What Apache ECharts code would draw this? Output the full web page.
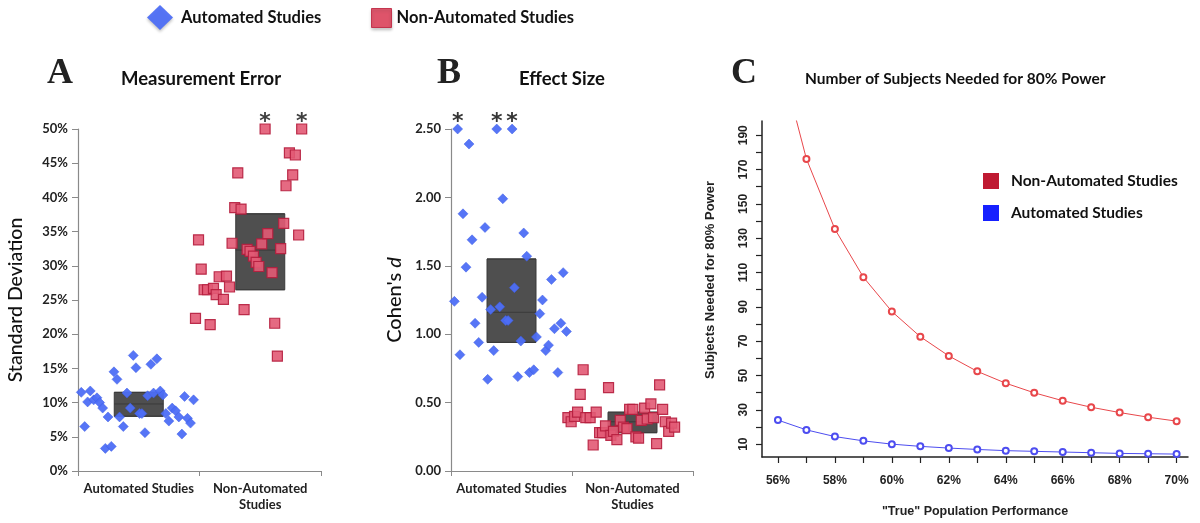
<!DOCTYPE html>
<html><head><meta charset="utf-8">
<script src="https://cdn.jsdelivr.net/npm/echarts@6/dist/echarts.min.js"></script>
<style>html,body{margin:0;padding:0;background:#fff}#c{width:1200px;height:523px}</style>
</head><body><div id="c"></div>
<script>
const groups = ['Automated Studies', 'Non-Automated\nStudies'];
const seriesNames = ['Automated Studies', 'Non-Automated Studies'];

// Panel A: Measurement Error (standard deviation, %)
const aAutoX = [0.027,0.055,0.079,0.101,0.129,0.156,0.178,0.203,0.225,0.247,0.274,0.296,0.321,0.342,0.373,0.403,0.430,0.455,0.477,0.507,0.526,0.551,0.573,0.600,0.622,0.649,0.677,0.699,0.723,0.748,0.775,0.803,0.830,0.855,0.877,0.901,0.926,0.951];
const aAutoY = [11.5,6.5,10.1,11.7,10.4,10.7,10.0,9.2,3.3,7.9,3.6,14.5,13.4,7.9,6.5,11.4,9.2,16.9,15.1,8.4,8.4,5.6,11.0,15.6,11.4,16.4,11.7,11.1,8.4,7.3,9.2,8.8,7.9,5.4,10.9,7.7,7.0,10.4];
const aNonX = [0.967,0.992,1.014,1.038,1.066,1.088,1.115,1.137,1.162,1.197,1.222,1.247,1.268,1.290,1.315,1.342,1.367,1.392,1.416,1.444,1.466,1.488,1.512,1.540,1.562,1.597,1.619,1.641,1.668,1.693,1.712,1.740,1.767,1.789,1.816,1.841];
const aNonY = [22.3,33.8,29.5,26.5,26.5,21.4,26.7,25.8,28.4,25.1,28.5,26.9,33.3,38.5,43.6,38.3,23.6,32.4,32.1,31.4,30.5,29.9,33.2,50,34.7,29.0,21.6,16.8,32.5,36.2,41.7,46.5,43.3,46.2,34.5,50];
const aBoxAuto = [8.0, 9.8, 11.5];   // Q1, median, Q3
const aBoxNon = [26.5, 32.3, 37.6];
const aCap = 50;

// Panel B: Effect size (Cohen's d)
const bAutoX = [0.028,0.055,0.074,0.099,0.124,0.149,0.174,0.199,0.229,0.257,0.281,0.303,0.328,0.353,0.378,0.403,0.428,0.452,0.472,0.505,0.524,0.552,0.577,0.601,0.626,0.648,0.684,0.706,0.734,0.756,0.783,0.806,0.830,0.855,0.883,0.908,0.927,0.954];
const bAutoY = [1.24,2.50,0.85,1.88,1.49,2.39,1.69,1.08,0.94,1.27,1.78,0.67,1.18,0.88,2.50,1.20,1.99,1.10,1.10,2.50,1.34,0.69,0.95,1.74,1.57,0.72,0.74,0.98,1.15,1.25,0.88,0.92,1.40,1.04,0.72,1.08,1.45,1.02];
const bNonX = [0.966,0.993,1.021,1.046,1.068,1.092,1.114,1.150,1.175,1.200,1.228,1.252,1.277,1.302,1.321,1.343,1.371,1.399,1.426,1.454,1.476,1.503,1.528,1.550,1.572,1.600,1.622,1.652,1.674,1.699,1.724,1.749,1.771,1.799,1.823,1.848];
const bNonY = [0.39,0.36,0.40,0.43,0.56,0.74,0.39,0.39,0.19,0.43,0.28,0.28,0.33,0.61,0.26,0.29,0.23,0.37,0.32,0.31,0.45,0.45,0.25,0.24,0.37,0.46,0.38,0.49,0.39,0.20,0.63,0.45,0.36,0.29,0.35,0.32];
const bBoxAuto = [0.94, 1.16, 1.55];
const bBoxNon = [0.28, 0.36, 0.43];
const bCap = 2.5;

// Panel C: subjects needed for 80% power
const cPerf = [56,57,58,59,60,61,62,63,64,65,66,67,68,69,70];
const cNon = [240,176.2,135.3,107.3,87.3,72.6,61.4,52.4,45.5,39.9,35.3,31.5,28.4,25.7,23.4];
const cAuto = [24.0,18.3,14.4,11.9,10.0,8.7,7.7,6.9,6.2,5.8,5.4,5.0,4.6,4.4,4.2];
const cXTicks = [56,57,58,59,60,61,62,63,64,65,66,67,68,69,70];
const cXLabels = [56,58,60,62,64,66,68,70];
const cYTicks = [10,20,30,40,50,60,70,80,90,100,110,120,130,140,150,160,170,180,190];
const cYLabels = [10,30,50,70,90,110,130,150,170,190];

const FONT = 'Lato';
const blue = '#4d6ef5', red = '#e25a74', redBorder = '#b51d3d';

function pts(xs, ys, cap) {
  return xs.map((x, i) => ys[i] >= cap
    ? { value: [x, ys[i]], label: { show: true } }
    : [x, ys[i]]);
}
const starLabel = {
  show: false, formatter: '*', position: 'top', distance: 0, offset: [0, 10],
  fontFamily: 'DejaVu Sans', fontSize: 22, fontWeight: 'bold', color: '#2a2a2a'
};

function catAxis(gi) {
  return {
    type: 'category', gridIndex: gi, data: groups,
    axisLine: { show: true, lineStyle: { color: '#8a8a8a', width: 1.2 } },
    axisTick: { show: true, length: 5, lineStyle: { color: '#8a8a8a' } },
    axisLabel: { interval: 0, fontFamily: FONT, fontWeight: 'bold', fontSize: 13, color: '#222', margin: 10, lineHeight: 16 },
    splitLine: { show: false }
  };
}
function valAxisHidden(gi) {
  return { type: 'value', gridIndex: gi, min: 0, max: 2, show: false };
}
function boxSeries(xi, yi, b1, b2) {
  return {
    type: 'boxplot', xAxisIndex: xi, yAxisIndex: yi, z: 1,
    boxWidth: [49, 49], silent: true,
    itemStyle: { color: '#4f4f4f', borderColor: '#3a3a3a', borderWidth: 1 },
    data: [[b1[0], b1[0], b1[1], b1[2], b1[2]], [b2[0], b2[0], b2[1], b2[2], b2[2]]]
  };
}
function autoScatter(xi, yi, xs, ys, cap) {
  return {
    type: 'scatter', name: seriesNames[0], xAxisIndex: xi, yAxisIndex: yi, z: 3,
    symbol: 'diamond', symbolSize: 10,
    itemStyle: { color: blue, borderColor: '#3a5be6', borderWidth: 0.5, opacity: 0.95 },
    label: starLabel, data: pts(xs, ys, cap)
  };
}
function nonScatter(xi, yi, xs, ys, cap) {
  return {
    type: 'scatter', name: seriesNames[1], xAxisIndex: xi, yAxisIndex: yi, z: 3,
    symbol: 'rect', symbolSize: 10,
    itemStyle: { color: red, borderColor: redBorder, borderWidth: 1.2, opacity: 0.9 },
    label: starLabel, data: pts(xs, ys, cap)
  };
}
const leftValAxis = (gi, max, interval, fmt, name) => ({
  type: 'value', gridIndex: gi, min: 0, max: max, interval: interval,
  axisLine: { show: true, lineStyle: { color: '#8a8a8a', width: 1.2 } },
  axisTick: { show: true, length: 6, lineStyle: { color: '#8a8a8a' } },
  axisLabel: { fontFamily: FONT, fontWeight: 'bold', fontSize: 13, color: '#222', margin: 10, formatter: fmt },
  splitLine: { show: false },
  name: name, nameLocation: 'middle', nameRotate: 90, nameGap: 50
});

const letterStyle = { fontFamily: 'Liberation Serif', fontWeight: 'bold', fontSize: 36, color: '#222' };
const headStyle = { fontFamily: FONT, fontWeight: 'bold', fontSize: 18.5, color: '#111' };

const chart = echarts.init(document.getElementById('c'));
chart.setOption({
  animation: false,
  backgroundColor: '#fff',
  title: [
    { text: 'A', left: 47, top: 56, padding: 0, textStyle: letterStyle },
    { text: 'Measurement Error', left: 121, top: 70, padding: 0, textStyle: headStyle },
    { text: 'B', left: 437, top: 56, padding: 0, textStyle: letterStyle },
    { text: 'Effect Size', left: 519, top: 70, padding: 0, textStyle: headStyle },
    { text: 'C', left: 731, top: 56, padding: 0, textStyle: letterStyle },
    { text: 'Number of Subjects Needed for 80% Power', left: 805, top: 71, padding: 0,
      textStyle: { fontFamily: FONT, fontWeight: 'bold', fontSize: 15.5, color: '#111' } }
  ],
  legend: [
    { left: 147, top: 5, padding: 0, itemWidth: 26, itemHeight: 25, selectedMode: false,
      textStyle: { fontFamily: FONT, fontWeight: 'bold', fontSize: 16.5, color: '#111', padding: [0, 0, 0, 3] },
      data: [{ name: seriesNames[0], icon: 'diamond', itemStyle: { color: blue, borderWidth: 0, shadowColor: 'rgba(0,0,0,0.25)', shadowBlur: 3, shadowOffsetY: 2 } }] },
    { left: 371, top: 8, padding: 0, itemWidth: 20, itemHeight: 19, selectedMode: false,
      textStyle: { fontFamily: FONT, fontWeight: 'bold', fontSize: 16.5, color: '#111' },
      data: [{ name: seriesNames[1], icon: 'rect', itemStyle: { color: '#e0475f', borderColor: '#c02a45', borderWidth: 1, shadowColor: 'rgba(0,0,0,0.25)', shadowBlur: 3, shadowOffsetY: 2 } }] },
    { left: 983, top: 173, padding: 0, orient: 'vertical', itemWidth: 16, itemHeight: 16, itemGap: 16, selectedMode: false,
      textStyle: { fontFamily: FONT, fontWeight: 'bold', fontSize: 15.5, color: '#111', padding: [0, 0, 0, 7] },
      data: [
        { name: seriesNames[1], icon: 'rect', itemStyle: { color: '#b8001c', borderWidth: 0 } },
        { name: seriesNames[0], icon: 'rect', itemStyle: { color: '#0a14ff', borderWidth: 0 } }
      ] }
  ],
  grid: [
    { left: 78, right: 879, top: 129, bottom: 52 },
    { left: 451, right: 507, top: 129, bottom: 52 },
    { left: 762, right: 12, top: 121, bottom: 62 }
  ],
  xAxis: [
    catAxis(0), valAxisHidden(0), catAxis(1), valAxisHidden(1),
    {
      type: 'value', gridIndex: 2, min: 55.44, max: 70.4,
      axisLine: { show: true, onZero: false, lineStyle: { color: '#222', width: 1.5 } },
      axisTick: { show: true, length: 6, customValues: cXTicks, lineStyle: { color: '#222', width: 1.2 } },
      axisLabel: { customValues: cXLabels, formatter: '{value}%', fontFamily: 'Liberation Sans', fontWeight: 'bold', fontSize: 12, color: '#222', margin: 18 },
      splitLine: { show: false },
      name: '"True" Population Performance', nameLocation: 'middle', nameGap: 48,
      nameTextStyle: { fontFamily: 'Liberation Sans', fontWeight: 'bold', fontSize: 12.5, color: '#222' }
    }
  ],
  yAxis: [
    Object.assign(leftValAxis(0, 50, 5, '{value}%', 'Standard Deviation'), {
      nameGap: 52, nameTextStyle: { fontFamily: FONT, fontSize: 19.5, fontWeight: 500, color: '#111' } }),
    Object.assign(leftValAxis(1, 2.5, 0.5, v => v.toFixed(2), "Cohen's {i|d}"), {
      nameGap: 46, nameTextStyle: { fontFamily: FONT, fontSize: 20, fontWeight: 500, color: '#111',
        rich: { i: { fontFamily: FONT, fontSize: 20, fontWeight: 500, fontStyle: 'italic', color: '#111' } } } }),
    {
      type: 'value', gridIndex: 2, min: 2.5, max: 198.3,
      axisLine: { show: true, lineStyle: { color: '#222', width: 1.5 } },
      axisTick: { show: true, length: 6, customValues: cYTicks, lineStyle: { color: '#222', width: 1.2 } },
      axisLabel: { customValues: cYLabels, rotate: 90, fontFamily: 'Liberation Sans', fontWeight: 'bold', fontSize: 12, color: '#222', margin: 12 },
      splitLine: { show: false },
      name: 'Subjects Needed for 80% Power', nameLocation: 'middle', nameRotate: 90, nameGap: 45,
      nameTextStyle: { fontFamily: 'Liberation Sans', fontWeight: 'bold', fontSize: 13, color: '#222', padding: [0, 0, 0, 18] }
    }
  ],
  series: [
    boxSeries(0, 0, aBoxAuto, aBoxNon),
    autoScatter(1, 0, aAutoX, aAutoY, aCap),
    nonScatter(1, 0, aNonX, aNonY, aCap),
    boxSeries(2, 1, bBoxAuto, bBoxNon),
    autoScatter(3, 1, bAutoX, bAutoY, bCap),
    nonScatter(3, 1, bNonX, bNonY, bCap),
    {
      type: 'line', name: seriesNames[1], xAxisIndex: 4, yAxisIndex: 2, z: 3,
      data: cPerf.map((p, i) => [p, cNon[i]]),
      symbol: 'emptyCircle', symbolSize: 6, showAllSymbol: true, clip: true,
      lineStyle: { color: '#e8474b', width: 1 }, itemStyle: { color: '#e8474b', borderWidth: 1 }
    },
    {
      type: 'line', name: seriesNames[0], xAxisIndex: 4, yAxisIndex: 2, z: 3,
      data: cPerf.map((p, i) => [p, cAuto[i]]),
      symbol: 'emptyCircle', symbolSize: 6, showAllSymbol: true, clip: true,
      lineStyle: { color: '#4d4df0', width: 1 }, itemStyle: { color: '#4d4df0', borderWidth: 1 }
    }
  ]
});
</script></body></html>
